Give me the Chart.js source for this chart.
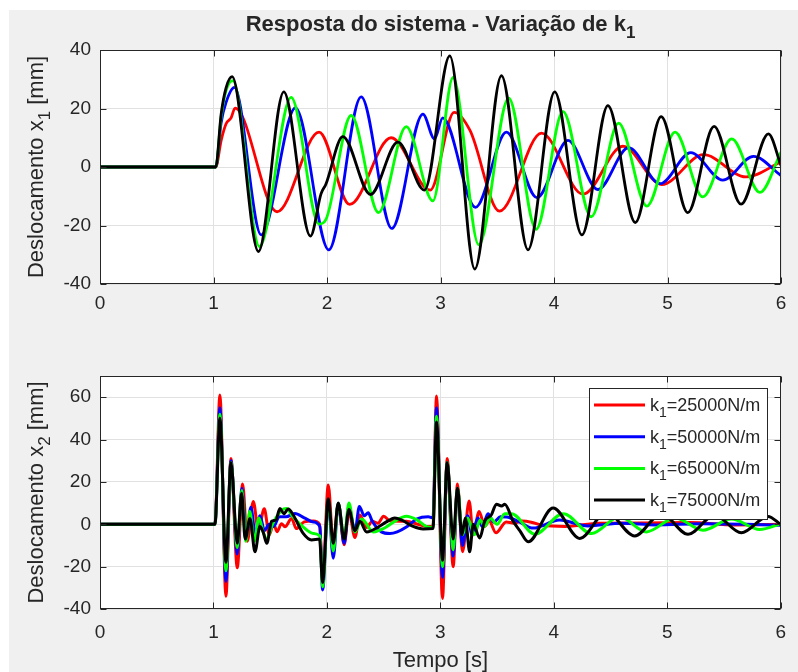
<!DOCTYPE html>
<html lang="pt">
<head>
<meta charset="UTF-8" />
<title>Resposta do sistema - Variação de k1</title>
<script src="https://cdn.jsdelivr.net/npm/chart.js"></script>
<style>
    body { margin: 0; background: #fff; }
    #fig { position: absolute; left: 9px; top: 10px; width: 789px; height: 662px; background: #f0f0f0; }
    canvas { position: absolute; left: 0; }
    #c1 { top: 0; }
    #c2 { top: 340px; }
</style>
</head>
<body>
<div id="fig"></div>
<canvas id="c1" width="798" height="340"></canvas>
<canvas id="c2" width="798" height="332"></canvas>
<script>
// axis ticks
const timeTicks = [0, 1, 2, 3, 4, 5, 6];
const x1Ticks = [-40, -20, 0, 20, 40];
const x2Ticks = [-40, -20, 0, 20, 40, 60];
const x1Range = [-40, 40];
const x2Range = [-40, 70];

// k1 values of the four runs (legend)
const stiffness = ['25000', '50000', '65000', '75000'];
const colors = ['#ff0000', '#0000ff', '#00ff00', '#000000'];

// x1 response, [t (s), mm]
const x1Red = [[0,0],[1.02,0],[1.067,9],[1.11,14.7],[1.155,16.8],[1.19,20.1],[1.56,-15.3],[1.93,11.9],[2.2,-12.8],[2.565,10],[2.91,-7.9],[3.12,18.7],[3.26,12.5],[3.52,-15.1],[3.89,11.6],[4.255,-9.3],[4.607,7.1],[4.95,-6],[5.317,4.2],[5.692,-3.4],[6,1.7]];
const x1Blue = [[0,0],[1.02,0],[1.067,15],[1.11,22],[1.184,27.2],[1.42,-23.2],[1.722,20.2],[2.016,-28.3],[2.301,24],[2.571,-21],[2.845,18.1],[2.947,9.6],[3.02,16.8],[3.308,-13.8],[3.581,11.9],[3.85,-10.5],[4.123,9.1],[4.387,-7.7],[4.657,6.6],[4.935,-5.7],[5.205,4.9],[5.487,-4.5],[5.757,3.6],[6,-2.9]];
const x1Green = [[0,0],[1.02,0],[1.067,17],[1.11,26],[1.17,29.5],[1.405,-27.2],[1.684,23.8],[1.93,-19.5],[1.99,-18],[2.213,17.6],[2.454,-15.6],[2.698,13.8],[2.933,-11.6],[3.111,30.6],[3.337,-26.6],[3.601,23.5],[3.842,-21.3],[4.079,18.9],[4.328,-17],[4.569,15],[4.818,-13.4],[5.067,11.9],[5.311,-10.2],[5.566,9.6],[5.815,-8.7],[6,5.1]];
const x1Black = [[0,0],[1.02,0],[1.067,18],[1.11,27],[1.164,30.9],[1.396,-28.9],[1.619,25.7],[1.854,-23.6],[1.948,-9.1],[1.99,-5.9],[2.139,10.4],[2.383,-9.4],[2.624,8.5],[2.859,-7.9],[3.082,38],[3.302,-34.9],[3.537,31.2],[3.771,-28.3],[4.006,25.7],[4.246,-23.2],[4.475,21],[4.716,-19],[4.944,17.2],[5.179,-15.6],[5.41,13.9],[5.648,-12.7],[5.889,11.3],[6,0.5]];

// x2 response, [t (s), mm]
const x2Red = [[0,0],[1.013,0],[1.057,61],[1.11,-34],[1.154,31],[1.21,-20.5],[1.257,19],[1.298,-8],[1.351,10.8],[1.395,-2.5],[1.448,7.3],[1.492,-5],[1.53,0.3],[1.56,-3.5],[1.6,0.3],[1.63,-1.2],[1.689,2.7],[1.73,-2],[1.8,1.1],[1.88,1.6],[1.935,0],[1.962,-26.5],[2.012,18.5],[2.056,-9.7],[2.1,9.8],[2.152,-9.7],[2.194,6],[2.247,-6.2],[2.29,4.4],[2.35,-1.5],[2.4,1.4],[2.45,0.5],[2.5,3.8],[2.56,1.5],[2.7,1.4],[2.8,0],[2.88,-1],[2.935,-1],[2.966,60.5],[3.019,-35],[3.06,31],[3.113,-20],[3.151,19],[3.195,-13],[3.254,11],[3.289,-5],[3.342,6],[3.39,-1],[3.43,1.5],[3.49,-4],[3.58,1.1],[3.65,0.5],[3.72,1.5],[3.8,1],[3.9,-0.5],[4.1,-1],[4.4,0.5],[4.8,0.6],[5.2,0.8],[5.6,-0.3],[6,0]];
const x2Blue = [[0,0],[1.013,0],[1.057,55],[1.11,-27],[1.154,30],[1.21,-14],[1.25,17],[1.29,-6],[1.33,8],[1.37,-5],[1.41,4],[1.45,-3],[1.49,0],[1.53,-1],[1.58,3.5],[1.64,3.5],[1.718,5.1],[1.8,3],[1.88,1.1],[1.938,-1.2],[1.962,-31],[2.012,10.5],[2.056,-16],[2.1,9.8],[2.152,-9],[2.194,8.4],[2.247,-3.6],[2.286,8.4],[2.33,4],[2.364,5.4],[2.4,1.4],[2.48,-3.6],[2.555,-4.4],[2.62,-3.6],[2.7,-1.3],[2.79,2.4],[2.893,3.5],[2.935,3],[2.966,55],[3.019,-25],[3.06,29],[3.113,-15],[3.151,17],[3.195,-10],[3.24,4],[3.28,-5],[3.33,3],[3.37,-1],[3.42,5],[3.47,1],[3.53,3.5],[3.583,3.4],[3.7,1],[3.817,-1.8],[4.05,2],[4.3,-0.8],[4.6,0.5],[4.9,-0.3],[5.3,0.3],[5.7,0],[6,-0.5]];
const x2Green = [[0,0],[1.013,0],[1.057,52],[1.11,-22],[1.154,29],[1.21,-11],[1.25,16],[1.285,-8],[1.32,6],[1.36,-8],[1.4,3],[1.44,-4],[1.47,-7],[1.52,0],[1.557,3.5],[1.6,6.6],[1.645,7.4],[1.7,3.5],[1.79,-1.2],[1.88,-4.3],[1.938,-5.5],[1.962,-29.5],[2.012,11.3],[2.056,-12.6],[2.1,9.8],[2.152,-6.2],[2.194,10],[2.247,-3.6],[2.305,2.5],[2.41,-3.6],[2.5,-2],[2.598,1.4],[2.7,3.8],[2.79,2.2],[2.878,-1.1],[2.935,-1.5],[2.966,51],[3.019,-20],[3.06,29],[3.113,-12],[3.151,17],[3.195,-5],[3.24,3],[3.3,-5],[3.35,2],[3.39,-1],[3.44,3],[3.5,0],[3.568,5],[3.627,5],[3.832,-4.7],[4.083,5],[4.332,-4.4],[4.58,3.5],[4.816,-3.6],[5.07,3],[5.315,-2.8],[5.565,2.5],[5.815,-2.5],[6,0.2]];
const x2Black = [[0,0],[1.013,0],[1.057,50],[1.11,-18],[1.154,29],[1.21,-9],[1.248,14.6],[1.28,-7],[1.322,2.7],[1.366,-13],[1.41,-1],[1.44,-4],[1.47,-9],[1.513,1.4],[1.55,2],[1.586,7.4],[1.62,5],[1.659,7.2],[1.703,4.4],[1.791,-4.3],[1.865,-7.4],[1.935,-7],[1.962,-27.5],[2.012,12],[2.056,-9],[2.1,10],[2.152,-7],[2.194,7],[2.247,-3],[2.29,1.4],[2.35,-3.6],[2.452,-1.3],[2.52,1],[2.598,3],[2.66,2],[2.76,-1],[2.848,-2.2],[2.935,-2],[2.966,48.3],[3.019,-17],[3.06,29],[3.113,-7],[3.151,17],[3.19,-5],[3.22,3],[3.258,-13],[3.29,0],[3.347,-6.5],[3.39,1.4],[3.45,4.5],[3.494,9.5],[3.54,8.6],[3.568,9.5],[3.642,1.4],[3.7,-3],[3.774,-8.3],[3.994,7.7],[4.229,-6.7],[4.464,5.8],[4.713,-5.5],[4.948,5],[5.183,-4.7],[5.418,4.3],[5.653,-4],[5.888,3.7],[6,-0.1]];

const FONT = '"Liberation Sans", Arial, Helvetica, sans-serif';
const INK = '#262626';
Chart.defaults.font.family = FONT;

// text with TeX-like subscripts: parts = [[text, isSub], ...]
function drawRich(ctx, parts, x, y, size, bold, align) {
    const subSize = Math.round(size * 0.78);
    const fontFor = sub => (bold ? 'bold ' : '') + (sub ? subSize : size) + 'px ' + FONT;
    let total = 0;
    parts.forEach(([t, sub]) => { ctx.font = fontFor(sub); total += ctx.measureText(t).width; });
    let cx = align === 'center' ? x - total / 2 : x;
    ctx.textAlign = 'left';
    ctx.textBaseline = 'alphabetic';
    parts.forEach(([t, sub]) => {
        ctx.font = fontFor(sub);
        ctx.fillText(t, cx, sub ? y + size * 0.33 : y);
        cx += ctx.measureText(t).width;
    });
}

function drawYLabel(ctx, parts, area) {
    ctx.save();
    ctx.translate(43, (area.top + area.bottom) / 2);
    ctx.rotate(-Math.PI / 2);
    drawRich(ctx, parts, 0, 0, 22, false, 'center');
    ctx.restore();
}

// white axes background, box and inward tick marks
const axesBox = {
    id: 'axesBox',
    beforeDraw(chart) {
        const { ctx, chartArea: a } = chart;
        ctx.save();
        ctx.fillStyle = '#ffffff';
        ctx.fillRect(a.left, a.top, a.right - a.left, a.bottom - a.top);
        ctx.restore();
    },
    afterDraw(chart, args, opts) {
        const { ctx, chartArea: a, scales } = chart;
        const L = Math.round(a.left) + 0.5, R = Math.round(a.right) - 0.5;
        const T = Math.round(a.top) + 0.5, B = Math.round(a.bottom) - 0.5;
        ctx.save();
        ctx.strokeStyle = INK;
        ctx.lineWidth = 1;
        ctx.strokeRect(L, T, R - L, B - T);
        ctx.beginPath();
        scales.x.ticks.forEach(tk => {
            const px = Math.round(scales.x.getPixelForValue(tk.value)) + 0.5;
            ctx.moveTo(px, B); ctx.lineTo(px, B - 6);
            ctx.moveTo(px, T); ctx.lineTo(px, T + 6);
        });
        scales.y.ticks.forEach(tk => {
            const py = Math.round(scales.y.getPixelForValue(tk.value)) + 0.5;
            ctx.moveTo(L, py); ctx.lineTo(L + 6, py);
            ctx.moveTo(R, py); ctx.lineTo(R - 6, py);
        });
        ctx.stroke();
        ctx.fillStyle = INK;
        if (opts.decorate) opts.decorate(ctx, a);
        ctx.restore();
    }
};

function makeChart(id, seriesList, yTicks, yRange, top, xAxisH, tickPad, lineW, decorate) {
    return new Chart(document.getElementById(id), {
        type: 'line',
        data: {
            datasets: seriesList.map((pts, i) => ({
                data: pts.map(([t, v]) => ({ x: t, y: v })),
                borderColor: colors[i],
                borderWidth: lineW,
                pointRadius: 0,
                cubicInterpolationMode: 'monotone',
                borderJoinStyle: 'round',
                borderCapStyle: 'round',
                order: seriesList.length - i
            }))
        },
        options: {
            responsive: false,
            animation: false,
            events: [],
            layout: { padding: { left: 0, top: top, right: 17, bottom: 0 } },
            plugins: {
                legend: { display: false },
                tooltip: { enabled: false },
                axesBox: { decorate: decorate }
            },
            scales: {
                x: {
                    type: 'linear',
                    min: timeTicks[0],
                    max: timeTicks[timeTicks.length - 1],
                    afterBuildTicks: s => { s.ticks = timeTicks.map(v => ({ value: v })); },
                    afterFit: s => { s.height = xAxisH; },
                    grid: { color: '#e1e1e1', drawTicks: false },
                    border: { display: false },
                    ticks: { color: INK, font: { size: 19 }, padding: tickPad, maxRotation: 0 }
                },
                y: {
                    min: yRange[0],
                    max: yRange[1],
                    afterBuildTicks: s => { s.ticks = yTicks.map(v => ({ value: v })); },
                    afterFit: s => { s.width = 100; },
                    grid: { color: '#e1e1e1', drawTicks: false },
                    border: { display: false },
                    ticks: { color: INK, font: { size: 19 }, padding: 9 }
                }
            }
        },
        plugins: [axesBox]
    });
}

// upper axes: x1
makeChart('c1', [x1Red, x1Blue, x1Green, x1Black], x1Ticks, x1Range, 50, 56, 8, 2.8, (ctx, a) => {
    drawRich(ctx, [['Resposta do sistema - Variação de k', false], ['1', true]],
        (a.left + a.right) / 2, 31, 22, true, 'center');
    drawYLabel(ctx, [['Deslocamento x', false], ['1', true], [' [mm]', false]], a);
});

// lower axes: x2, with legend
makeChart('c2', [x2Red, x2Blue, x2Green, x2Black], x2Ticks, x2Range, 36, 63, 12, 3, (ctx, a) => {
    drawYLabel(ctx, [['Deslocamento x', false], ['2', true], [' [mm]', false]], a);
    drawRich(ctx, [['Tempo [s]', false]], (a.left + a.right) / 2, 327, 22, false, 'center');

    const box = { left: 589, top: 48, right: 768, bottom: 180 };
    ctx.fillStyle = '#ffffff';
    ctx.fillRect(box.left, box.top, box.right - box.left, box.bottom - box.top);
    ctx.strokeStyle = INK;
    ctx.lineWidth = 1;
    ctx.strokeRect(box.left + 0.5, box.top + 0.5, box.right - box.left - 1, box.bottom - box.top - 1);
    stiffness.forEach((k, i) => {
        const ry = 65 + i * 31.7;
        ctx.strokeStyle = colors[i];
        ctx.lineWidth = 3;
        ctx.beginPath();
        ctx.moveTo(594, ry);
        ctx.lineTo(645, ry);
        ctx.stroke();
        ctx.fillStyle = INK;
        drawRich(ctx, [['k', false], ['1', true], ['=' + k + 'N/m', false]], 650, ry + 6, 18, false, 'left');
    });
});
</script>
</body>
</html>
